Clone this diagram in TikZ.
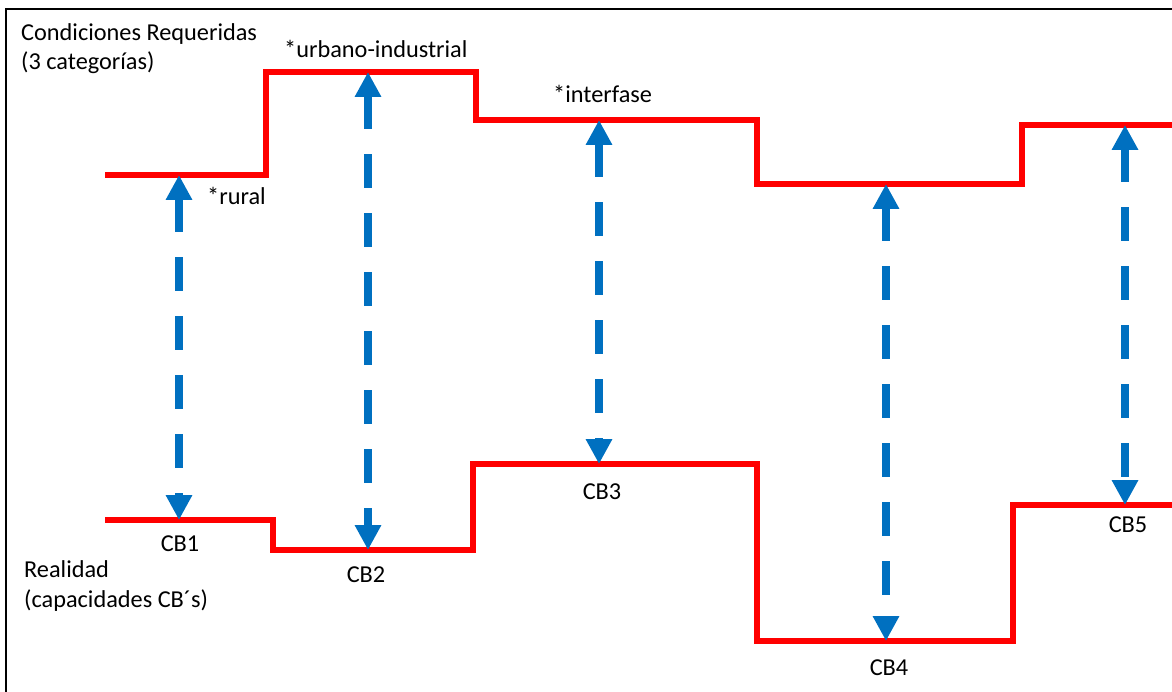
\documentclass[tikz,border=0pt]{standalone}
\usepackage{fontspec}
\setmainfont{Carlito}
\usetikzlibrary{arrows.meta}
\definecolor{rojo}{HTML}{FF0000}
\definecolor{azul}{HTML}{0070C0}
\begin{document}
\begin{tikzpicture}[x=1pt,y=-1pt,
  redline/.style={draw=rojo,line width=6.5pt,line join=miter},
  gaparrow/.style={draw=azul,line width=8pt,dash pattern=on 34pt off 25pt,
    {Triangle[length=25pt,width=25pt]}-{Triangle[length=25pt,width=25pt]}},
  lbl/.style={font=\fontsize{24.3}{29}\selectfont,inner sep=0pt},
  frame/.style={draw=black,line width=2.2pt}]
\useasboundingbox (0,0) rectangle (1172,692);
% frame
\draw[frame] (6,692) -- (6,9) -- (1172,9);
% required conditions (upper level)
\draw[redline] (105,175) -- (266,175) -- (266,72) -- (476,72) -- (476,120)
  -- (757,120) -- (757,184) -- (1022,184) -- (1022,125) -- (1176,125);
% reality (lower level)
\draw[redline] (105,520) -- (273,520) -- (273,550) -- (473,550) -- (473,464)
  -- (757,464) -- (757,641) -- (1013,641) -- (1013,505) -- (1176,505);
% arrow end points
\coordinate (t1) at (179,175);  \coordinate (b1) at (179,520);
\coordinate (t2) at (368,72);   \coordinate (b2) at (368,550);
\coordinate (t3) at (599,120);  \coordinate (b3) at (599,464);
\coordinate (t4) at (886,184);  \coordinate (b4) at (886,641);
\coordinate (t5) at (1125,125); \coordinate (b5) at (1125,505);
\draw[gaparrow] (t1) -- (b1);
\draw[gaparrow] (t2) -- (b2);
\draw[gaparrow] (t3) -- (b3);
\draw[gaparrow] (t4) -- (b4);
\draw[gaparrow] (t5) -- (b5);
% labels
\node[lbl,anchor=base west] (cond1) at (21,41) {Condiciones Requeridas};
\node[lbl,anchor=base west] (cond2) at (21,70) {(3 categorías)};
\node[lbl,anchor=base west] (rural) at (207,205) {*rural};
\node[lbl,anchor=base west] (urb) at (284,58) {*urbano-industrial};
\node[lbl,anchor=base west] (inter) at (553,103) {*interfase};
\node[lbl,anchor=base] (cb1) at (180,551) {CB1};
\node[lbl,anchor=base] (cb2) at (366,582) {CB2};
\node[lbl,anchor=base] (cb3) at (602,499) {CB3};
\node[lbl,anchor=base] (cb4) at (889,675) {CB4};
\node[lbl,anchor=base] (cb5) at (1128,532) {CB5};
\node[lbl,anchor=base west] (real1) at (24,577) {Realidad};
\node[lbl,anchor=base west] (real2) at (24,607) {(capacidades CB´s)};
\end{tikzpicture}
\end{document}
